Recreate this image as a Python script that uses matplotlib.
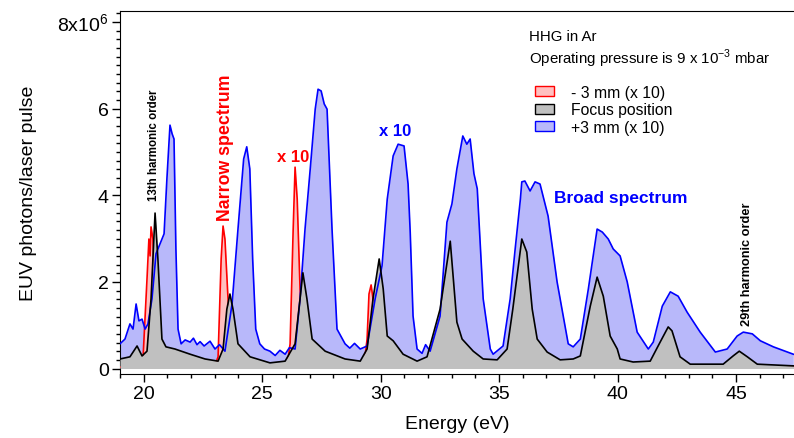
import matplotlib
matplotlib.use("Agg")
import matplotlib.pyplot as plt
from matplotlib.patches import Patch
from matplotlib.ticker import MultipleLocator, FuncFormatter

plt.rcParams['font.family'] = ['Liberation Sans', 'DejaVu Sans']

# focus position (x1), energy in eV, photons in units of 1e6
focus_e = [19.00, 19.42, 19.72, 19.93, 20.14, 20.31, 20.48, 20.60, 20.77, 20.94, 21.32, 21.96, 22.59,
           23.14, 23.35, 23.51, 23.64, 23.77, 23.98, 24.49, 25.33, 25.97, 26.39, 26.60, 26.72, 26.89,
           27.11, 27.66, 28.50, 29.14, 29.43, 29.68, 29.94, 30.11, 30.28, 30.53, 30.95, 31.54, 31.96,
           32.51, 32.94, 33.22, 33.44, 33.91, 34.33, 34.92, 35.34, 35.58, 35.96, 36.17, 36.40, 36.61,
           37.03, 37.58, 38.13, 38.43, 38.85, 39.14, 39.40, 39.69, 39.99, 40.11, 40.66, 41.38, 41.80,
           42.14, 42.30, 42.64, 43.07, 44.46, 44.88, 45.14, 45.48, 45.90, 47.46]
focus_v = [0.22, 0.27, 0.52, 0.29, 0.40, 1.61, 3.59, 2.53, 0.68, 0.50, 0.45, 0.33, 0.22,
           0.17, 0.45, 1.37, 1.72, 1.37, 0.57, 0.27, 0.13, 0.17, 0.57, 1.61, 2.21, 1.61,
           0.68, 0.40, 0.22, 0.17, 0.45, 1.61, 2.53, 1.84, 0.75, 0.64, 0.33, 0.17, 0.27,
           1.37, 2.94, 1.07, 0.68, 0.40, 0.22, 0.20, 0.45, 1.37, 2.99, 2.69, 1.37, 0.68,
           0.38, 0.20, 0.22, 0.29, 1.44, 2.11, 1.67, 0.75, 0.45, 0.22, 0.15, 0.17, 0.61,
           0.96, 0.87, 0.27, 0.10, 0.10, 0.29, 0.40, 0.27, 0.10, 0.06]

# +3 mm (x10)
plus_e = [19.00, 19.21, 19.42, 19.55, 19.68, 19.80, 19.93, 20.06, 20.18, 20.35, 20.52, 20.69, 20.86,
          20.98, 21.11, 21.20, 21.28, 21.36, 21.45, 21.58, 21.75, 21.96, 22.10, 22.25, 22.38, 22.55,
          22.80, 23.01, 23.20, 23.43, 23.73,
          23.98, 24.22, 24.35, 24.48, 24.60, 24.73, 24.90, 25.10, 25.33, 25.55, 25.75, 25.97, 26.15,
          26.39, 26.60, 26.81, 27.03,
          27.24, 27.36, 27.49, 27.62, 27.74, 27.95, 28.16, 28.50, 28.70, 28.90, 29.14, 29.43, 29.77,
          30.06, 30.28,
          30.53, 30.74, 30.99, 31.16, 31.25, 31.37, 31.54, 31.75, 31.90, 32.09, 32.51, 32.80, 33.01,
          33.22, 33.47,
          33.64, 33.78, 33.94, 34.08, 34.33, 34.63, 34.75, 35.17, 35.47, 35.68, 35.90, 35.96, 36.09,
          36.31, 36.52, 36.73, 37.07, 37.45, 37.92, 38.13, 38.43, 38.77, 39.14, 39.36, 39.61, 39.82,
          40.11, 40.41, 40.83, 41.30, 41.51, 41.89, 42.23, 42.56, 42.94, 43.49, 44.13, 44.63, 45.05,
          45.31, 45.69, 46.03, 46.58, 47.42]
plus_v = [0.57, 0.68, 1.03, 0.91, 1.49, 1.10, 1.14, 0.91, 1.03, 1.61, 2.65, 2.88, 3.11,
          4.38, 5.62, 5.42, 5.30, 2.76, 0.91, 0.57, 0.66, 0.61, 0.70, 0.55, 0.62, 0.52,
          0.63, 0.45, 0.55, 0.40, 1.49,
          3.22, 4.84, 5.12, 4.61, 2.53, 0.91, 0.57, 0.45, 0.40, 0.30, 0.42, 0.33, 0.48,
          0.45, 1.61, 3.22, 4.61,
          5.99, 6.45, 6.41, 6.11, 5.99, 3.22, 0.91, 0.57, 0.47, 0.58, 0.45, 0.52, 1.61,
          2.37, 3.91,
          4.91, 5.18, 5.14, 4.26, 3.15, 1.21, 0.45, 0.35, 0.55, 0.40, 1.21, 3.38, 3.80,
          4.61, 5.37,
          5.18, 5.30, 4.50, 4.15, 1.61, 0.45, 0.33, 0.52, 1.61, 2.76, 3.91, 4.31, 4.33,
          4.10, 4.31, 4.26, 3.52, 2.00, 0.57, 0.50, 0.68, 1.84, 3.22, 3.15, 2.99, 2.76,
          2.60, 2.00, 0.84, 0.45, 0.61, 1.44, 1.77, 1.67, 1.30, 0.84, 0.38, 0.45, 0.75,
          0.84, 0.80, 0.64, 0.50, 0.33]

# -3 mm (x10)
minus_e = [19.00, 19.85, 19.97, 20.14, 20.22, 20.27, 20.31, 20.39, 20.52, 20.69, 23.01, 23.14, 23.27,
           23.35, 23.43, 23.56, 23.69, 23.86, 24.07, 26.06, 26.18, 26.31, 26.39, 26.48, 26.60, 26.72,
           26.89, 27.11, 29.30, 29.43, 29.51, 29.60, 29.68, 29.81, 29.98, 30.19, 47.46]
minus_v = [0.03, 0.06, 0.22, 2.07, 2.99, 2.60, 3.27, 2.99, 0.91, 0.10, 0.08, 0.27, 2.53,
           3.29, 2.99, 1.61, 0.68, 0.17, 0.08, 0.08, 0.57, 3.22, 4.65, 3.91, 1.84, 0.80,
           0.17, 0.08, 0.08, 0.68, 1.72, 1.93, 1.61, 0.68, 0.13, 0.06, 0.03]

W, H = 794, 439
fig = plt.figure(figsize=(W / 100, H / 100), dpi=100)
ax = fig.add_axes([120 / W, 1 - 375 / H, 1 - 120 / W, (375 - 12) / H])

ax.fill_between(plus_e, 0, plus_v, color='#b8b8fa', lw=0, zorder=1)
ax.fill_between(minus_e, 0, minus_v, color='#ffc0c0', lw=0, zorder=2)
ax.plot(minus_e, minus_v, color='#ff0000', lw=1.2, zorder=3)
ax.fill_between(focus_e, 0, focus_v, color='#c0c0c0', lw=0, zorder=4)
ax.plot(plus_e, plus_v, color='#0000ff', lw=1.2, zorder=5)
ax.plot(focus_e, focus_v, color='black', lw=1.2, zorder=6)

ax.set_xlim(19.0, 47.45)
ax.set_ylim(-0.127, 8.256)

ax.xaxis.set_major_locator(MultipleLocator(5))
ax.xaxis.set_minor_locator(MultipleLocator(1))
ax.yaxis.set_major_locator(MultipleLocator(2))
ax.yaxis.set_minor_locator(MultipleLocator(0.2))
ax.yaxis.set_major_formatter(FuncFormatter(
    lambda v, p: '8x10$^{\\mathregular{6}}$' if round(v) == 8 else '%d' % round(v)))
ax.tick_params(which='major', direction='out', length=6, width=1, labelsize=14, pad=2)
ax.tick_params(which='minor', direction='out', length=3, width=1)
ax.spines['right'].set_visible(False)

ax.set_xlabel('Energy (eV)', fontsize=14, labelpad=9)
ax.set_ylabel('EUV photons/laser pulse', fontsize=14, labelpad=15)

ax.text(20.45, 3.9, '13th harmonic order', rotation=90, fontsize=8.3, fontweight='bold',
        ha='center', va='bottom')
ax.text(45.45, 1.0, '29th harmonic order', rotation=90, fontsize=9.2, fontweight='bold',
        ha='center', va='bottom')
ax.text(23.45, 3.43, 'Narrow spectrum', rotation=90, fontsize=12.8, fontweight='bold',
        color='#ff0000', ha='center', va='bottom')
ax.text(26.3, 4.9, 'x 10', fontsize=12, fontweight='bold', color='#ff0000', ha='center', va='center')
ax.text(30.6, 5.49, 'x 10', fontsize=12, fontweight='bold', color='#0000ff', ha='center', va='center')
ax.text(37.3, 3.96, 'Broad spectrum', fontsize=12.5, fontweight='bold', color='#0000ff',
        ha='left', va='center')

fig.text(529 / W, 1 - 37 / H, 'HHG in Ar', fontsize=10.8, va='center')
fig.text(529 / W, 1 - 59 / H, 'Operating pressure is 9 x 10$^{\\mathregular{-3}}$ mbar',
         fontsize=10.8, va='center')

handles = [Patch(facecolor='#ffc0c0', edgecolor='#ff0000'),
           Patch(facecolor='#c0c0c0', edgecolor='black'),
           Patch(facecolor='#b8b8fa', edgecolor='#0000ff')]
labels = ['- 3 mm (x 10)', 'Focus position', '+3 mm (x 10)']
fig.legend(handles, labels, loc='upper left', bbox_to_anchor=(535 / W, 1 - 86 / H),
           frameon=False, fontsize=11.3, handlelength=1.2, handleheight=0.6,
           handletextpad=1.1, labelspacing=0.15, borderpad=0, borderaxespad=0)

fig.savefig('out.png', dpi=100)
